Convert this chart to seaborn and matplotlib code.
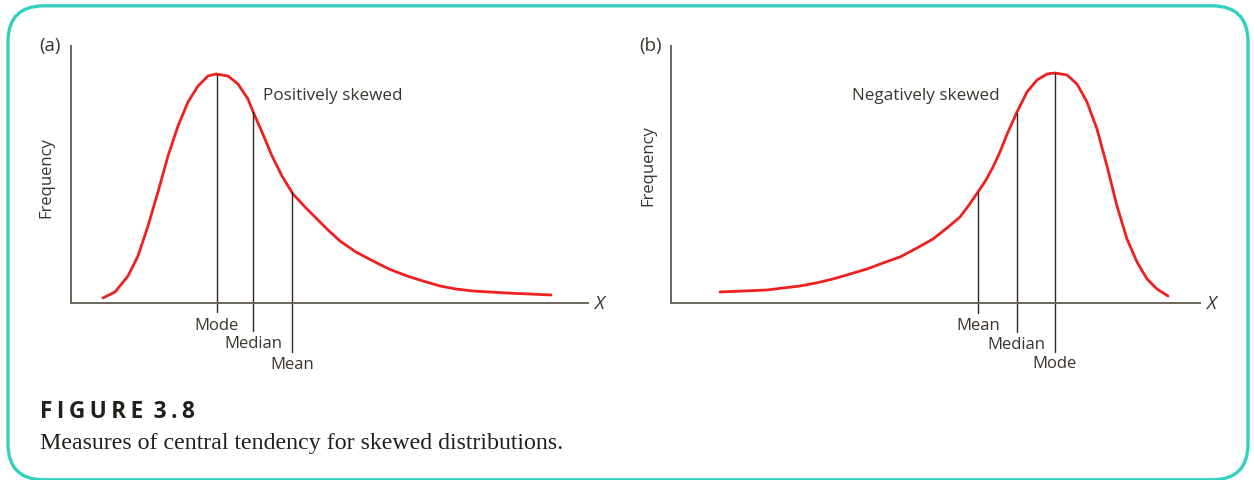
import numpy as np
import matplotlib
matplotlib.use("Agg")
import matplotlib.pyplot as plt
import seaborn as sns
from matplotlib.patches import FancyBboxPatch

# --- DATA ---
# (a) positively skewed curve
pos_x = [32, 44, 57, 67, 77, 87, 97, 107, 117, 127, 137, 145, 157, 167, 177,
         183, 191, 201, 211, 222, 234, 246, 257, 269, 285, 302, 318, 336, 352,
         369, 385, 402, 419, 436, 458, 480]
pos_y = [5, 11, 27, 47, 77, 111, 147, 177, 201, 217, 227, 229, 227, 219, 204,
         189, 171, 147, 127, 109, 96, 84, 73, 62, 51, 42, 34, 27, 22,
         17, 14, 12, 11, 10, 9, 8]
pos_names = ["Mode", "Median", "Mean"]
pos_stats = [145.5, 182, 221]

# (b) negatively skewed curve
neg_x = [49, 72, 96, 112, 129, 145, 162, 179, 196, 212, 229, 246, 262, 276,
         289, 298, 307, 315, 322, 329, 337, 346, 356, 366, 376, 384, 396, 406,
         416, 426, 436, 446, 456, 466, 476, 486, 497]
neg_y = [11, 12, 13, 15, 17, 20, 24, 29, 34, 40, 46, 55, 64, 75,
         86, 98, 111, 123, 136, 151, 171, 191, 211, 223, 229, 230, 228, 219,
         201, 174, 137, 97, 64, 41, 24, 14, 7]
neg_names = ["Mean", "Median", "Mode"]
neg_stats = [307, 345.5, 384]

# --- STYLE ---
sns.set_style("white")
plt.rcParams["font.family"] = ["Open Sans", "DejaVu Sans"]

W, H = 1254, 481
RED = "#ee2020"
INK = "#3a342d"
AXIS = "#6b655c"
TEAL = "#33d1bd"

fig = plt.figure(figsize=(W / 100, H / 100), dpi=100)


def fx(px):
    return px / W


def fy(py):
    return 1 - py / H


# rounded teal frame (bottom edge sits on the image border)
frame = FancyBboxPatch((8 / 100, 0.002), 1240 / 100, 4.74,
                       boxstyle="round,pad=0,rounding_size=0.36",
                       transform=fig.dpi_scale_trans, fill=False,
                       edgecolor=TEAL, linewidth=2.4)
fig.patches.append(frame)


def draw_panel(ax, xs, ys, names, stats, width, drops, label_offs):
    sns.lineplot(x=xs, y=ys, ax=ax, color=RED, linewidth=2.0,
                 sort=False, estimator=None)
    ax.set_xlim(0, width)
    ax.set_ylim(0, 257)
    ax.set_xticks([])
    ax.set_yticks([])
    ax.set_xlabel("")
    ax.set_ylabel("")
    for side in ["top", "right"]:
        ax.spines[side].set_visible(False)
    for side in ["left", "bottom"]:
        ax.spines[side].set_color(AXIS)
        ax.spines[side].set_linewidth(1.4)
    # vertical lines for mode / median / mean
    tops = np.interp(stats, xs, ys)
    for name, sx, top, d, t in zip(names, stats, tops, drops, label_offs):
        ax.plot([sx, sx], [top, -d], color="#2e2922", linewidth=1.0,
                clip_on=False)
        ax.text(sx, -t, name, ha="center", va="center", fontsize=12,
                color=INK)


ax_a = fig.add_axes([fx(71), fy(304), 517 / W, 257 / H])
draw_panel(ax_a, pos_x, pos_y, pos_names, pos_stats, 517,
           [9, 28, 49], [22, 40, 61])
ax_a.text(192, 208, "Positively skewed", ha="left", va="center",
          fontsize=12.3, color=INK)

ax_b = fig.add_axes([fx(671), fy(304), 529 / W, 257 / H])
draw_panel(ax_b, neg_x, neg_y, neg_names, neg_stats, 529,
           [10, 29, 49], [22, 41, 60])
ax_b.text(181, 208, "Negatively skewed", ha="left", va="center",
          fontsize=12.3, color=INK)

# panel tags, axis names
fig.text(fx(50), fy(46), "(a)", ha="center", va="center", fontsize=13.5, color=INK)
fig.text(fx(651), fy(46), "(b)", ha="center", va="center", fontsize=13.5, color=INK)
fig.text(fx(46), fy(178), "Frequency", rotation=90, ha="center", va="center",
         fontsize=12, color=INK)
fig.text(fx(648), fy(166), "Frequency", rotation=90, ha="center", va="center",
         fontsize=12, color=INK)
fig.text(fx(600), fy(304), "X", style="italic", ha="center", va="center",
         fontsize=13.5, color=INK)
fig.text(fx(1212), fy(304), "X", style="italic", ha="center", va="center",
         fontsize=13.5, color=INK)

# caption
fig.text(fx(40), fy(412), "F\u2009I\u2009G\u2009U\u2009R\u2009E\u2009 3\u2009.\u20098",
         ha="left", va="center", fontsize=16.3, fontweight="bold",
         family=["Open Sans", "DejaVu Sans"], color="#231f1a")
fig.text(fx(40), fy(444), "Measures of central tendency for skewed distributions.",
         ha="left", va="center", fontsize=17.2, family=["Liberation Serif"],
         color="#231f1a")

fig.savefig("out.png", dpi=100)
